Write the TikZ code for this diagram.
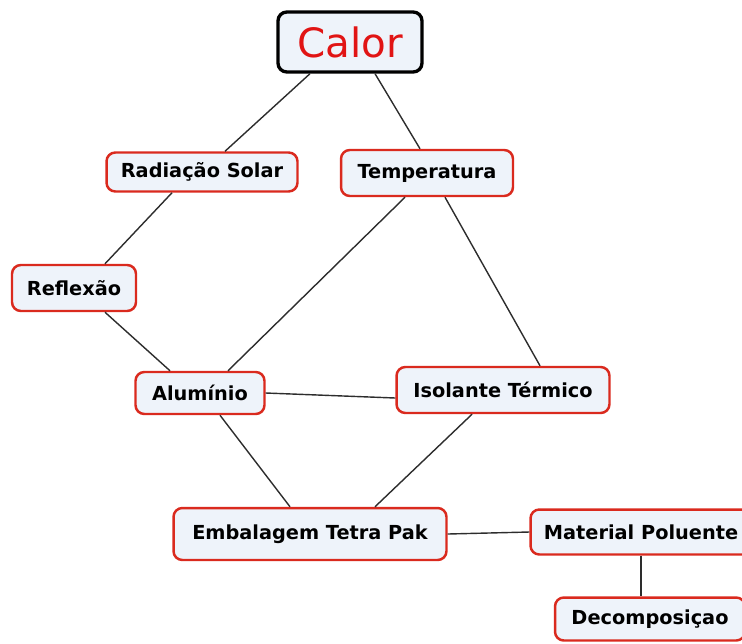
\documentclass[tikz,border=0pt]{standalone}
\usepackage{fontspec}
\setmainfont{DejaVu Sans}

\definecolor{boxred}{RGB}{218,42,30}
\definecolor{boxfill}{RGB}{238,243,250}
\definecolor{linkgray}{RGB}{45,45,45}

\tikzset{
  concept/.style={draw=boxred, line width=1.4pt, rounded corners=5pt, fill=boxfill,
    font=\fontsize{11}{13}\selectfont\bfseries, inner sep=0pt},
  topconcept/.style={concept, draw=black, line width=1.9pt, text={rgb,255:red,225;green,20;blue,20},
    font=\fontsize{23}{27}\selectfont},
  link/.style={draw=linkgray, line width=0.8pt}
}

\begin{document}
\begin{tikzpicture}[x=0.02cm, y=-0.02cm]

\useasboundingbox (0, 0) rectangle (742, 643);

\node[topconcept, minimum width=2.88cm, minimum height=1.2cm] (calor) at (350, 42) {Calor};

\node[concept, minimum width=3.82cm, minimum height=0.78cm] (radiacao) at (202, 172) {Radiação Solar};
\node[concept, minimum width=3.44cm, minimum height=0.92cm] (temperatura) at (427, 173) {Temperatura};
\node[concept, minimum width=2.48cm, minimum height=0.92cm] (reflexao) at (74, 288) {Reflexão};
\node[concept, minimum width=2.58cm, minimum height=0.84cm] (aluminio) at (200, 393) {Alumínio};
\node[concept, minimum width=4.26cm, minimum height=0.92cm] (isolante) at (503, 390) {Isolante Térmico};
\node[concept, minimum width=5.46cm, minimum height=1.04cm] (embalagem) at (310, 534) {Embalagem Tetra Pak};
\node[concept, minimum width=4.42cm, minimum height=0.9cm] (material) at (641, 532) {Material Poluente};
\node[concept, minimum width=3.8cm, minimum height=0.86cm] (decomposicao) at (650, 619) {Decomposiçao};

\draw[link] ([xshift=-0.8cm]calor.south) -- ([xshift=0.46cm]radiacao.north);
\draw[link] ([xshift=0.5cm]calor.south) -- ([xshift=-0.14cm]temperatura.north);
\draw[link] ([xshift=-0.6cm]radiacao.south) -- ([xshift=0.62cm]reflexao.north);
\draw[link] ([xshift=0.62cm]reflexao.south) -- ([xshift=-0.6cm]aluminio.north);
\draw[link] ([xshift=-0.44cm]temperatura.south) -- ([xshift=0.56cm]aluminio.north);
\draw[link] ([xshift=0.36cm]temperatura.south) -- ([xshift=0.74cm]isolante.north);
\draw[link] (aluminio.east) -- ([yshift=-0.16cm]isolante.west);
\draw[link] ([xshift=0.4cm]aluminio.south) -- ([xshift=-0.4cm]embalagem.north);
\draw[link] ([xshift=-0.62cm]isolante.south) -- ([xshift=1.3cm]embalagem.north);
\draw[link] (embalagem.east) -- (material.west);
\draw[link] (material.south) -- (material.south |- decomposicao.north);

\end{tikzpicture}
\end{document}
